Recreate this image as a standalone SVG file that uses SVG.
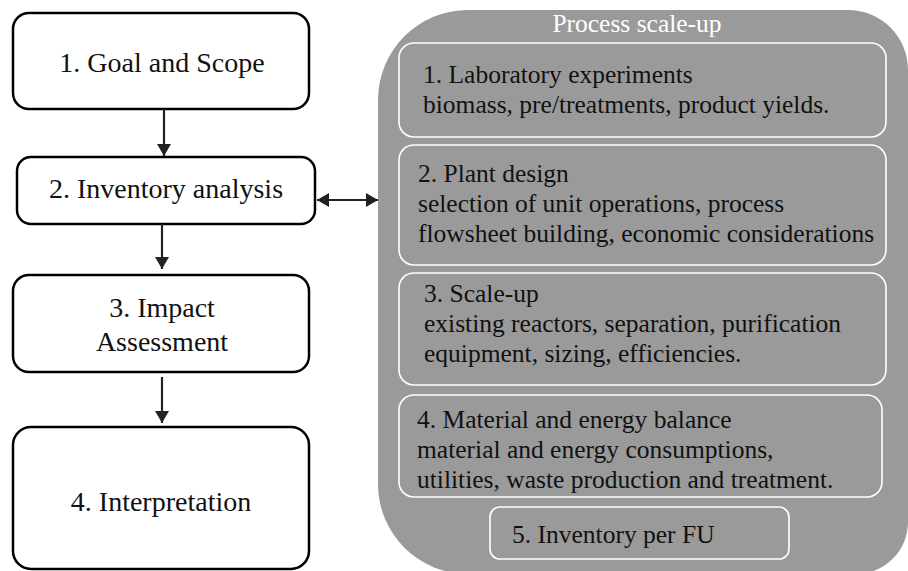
<svg xmlns="http://www.w3.org/2000/svg" width="908" height="571" viewBox="0 0 908 571" font-family="'Liberation Serif', 'Times New Roman', serif">
<style>
text{font-family:"Liberation Serif","Times New Roman",serif;fill:#111}
.lbox{fill:#fff;stroke:#000;stroke-width:2.5}
.ibox{fill:none;stroke:#fff;stroke-width:1.6}
.lt{font-size:28px;text-anchor:middle}
.rt{font-size:25.5px}
.conn{stroke:#222;stroke-width:2.2;fill:none}
</style>
<defs>
<marker id="ah" viewBox="0 0 12 14" refX="12" refY="7" markerWidth="12" markerHeight="14" markerUnits="userSpaceOnUse" orient="auto-start-reverse">
<path d="M0,0 L12,7 L0,14 Z" fill="#222"/>
</marker>
</defs>
<rect width="908" height="571" fill="#fff"/>
<g id="panel">
<path d="M468 10 H848 A60 60 0 0 1 908 70 V522 A52 52 0 0 1 856 574 H468 A90 90 0 0 1 378 484 V100 A90 90 0 0 1 468 10 Z" fill="#9a9a9a"/>
<text x="637" y="32" font-size="25.5" text-anchor="middle" style="fill:#fff">Process scale-up</text>
</g>
<g id="goal">
<rect class="lbox" x="13" y="13" width="296" height="96" rx="16"/>
<text class="lt" x="162" y="72">1. Goal and Scope</text>
</g>
<g id="inventory">
<rect class="lbox" x="17" y="157" width="298" height="67" rx="14"/>
<text class="lt" x="166" y="198">2. Inventory analysis</text>
</g>
<g id="impact">
<rect class="lbox" x="13" y="275" width="296" height="97" rx="16"/>
<text class="lt" x="162" y="317">3. Impact</text>
<text class="lt" x="162" y="351">Assessment</text>
</g>
<g id="interpretation">
<rect class="lbox" x="13" y="427" width="296" height="142" rx="18"/>
<text class="lt" x="161" y="511">4. Interpretation</text>
</g>
<g id="lab">
<rect class="ibox" x="399" y="43" width="487" height="94" rx="15"/>
<text class="rt" x="423" y="83">1. Laboratory experiments</text>
<text class="rt" x="423" y="113">biomass, pre/treatments, product yields.</text>
</g>
<g id="plant">
<rect class="ibox" x="399" y="145" width="487" height="120" rx="15"/>
<text class="rt" x="418" y="182">2. Plant design</text>
<text class="rt" x="418" y="212">selection of unit operations, process</text>
<text class="rt" x="418" y="242">flowsheet building, economic considerations</text>
</g>
<g id="scaleup">
<rect class="ibox" x="399" y="273" width="487" height="112" rx="15"/>
<text class="rt" x="424" y="302">3. Scale-up</text>
<text class="rt" x="424" y="332">existing reactors, separation, purification</text>
<text class="rt" x="424" y="362">equipment, sizing, efficiencies.</text>
</g>
<g id="balance">
<rect class="ibox" x="399" y="395" width="483" height="102" rx="15"/>
<text class="rt" x="417" y="428">4. Material and energy balance</text>
<text class="rt" x="417" y="458">material and energy consumptions,</text>
<text class="rt" x="417" y="488">utilities, waste production and treatment.</text>
</g>
<g id="perfu">
<rect class="ibox" x="490" y="507" width="299" height="52" rx="10"/>
<text class="rt" x="512" y="543">5. Inventory per FU</text>
</g>
<g id="connectors">
<line class="conn" x1="164" y1="109" x2="164" y2="156" marker-end="url(#ah)"/>
<line class="conn" x1="162" y1="224" x2="162" y2="269" marker-end="url(#ah)"/>
<line class="conn" x1="162" y1="377" x2="162" y2="423" marker-end="url(#ah)"/>
<line class="conn" x1="317" y1="200" x2="378" y2="200" marker-start="url(#ah)" marker-end="url(#ah)"/>
</g>
</svg>
